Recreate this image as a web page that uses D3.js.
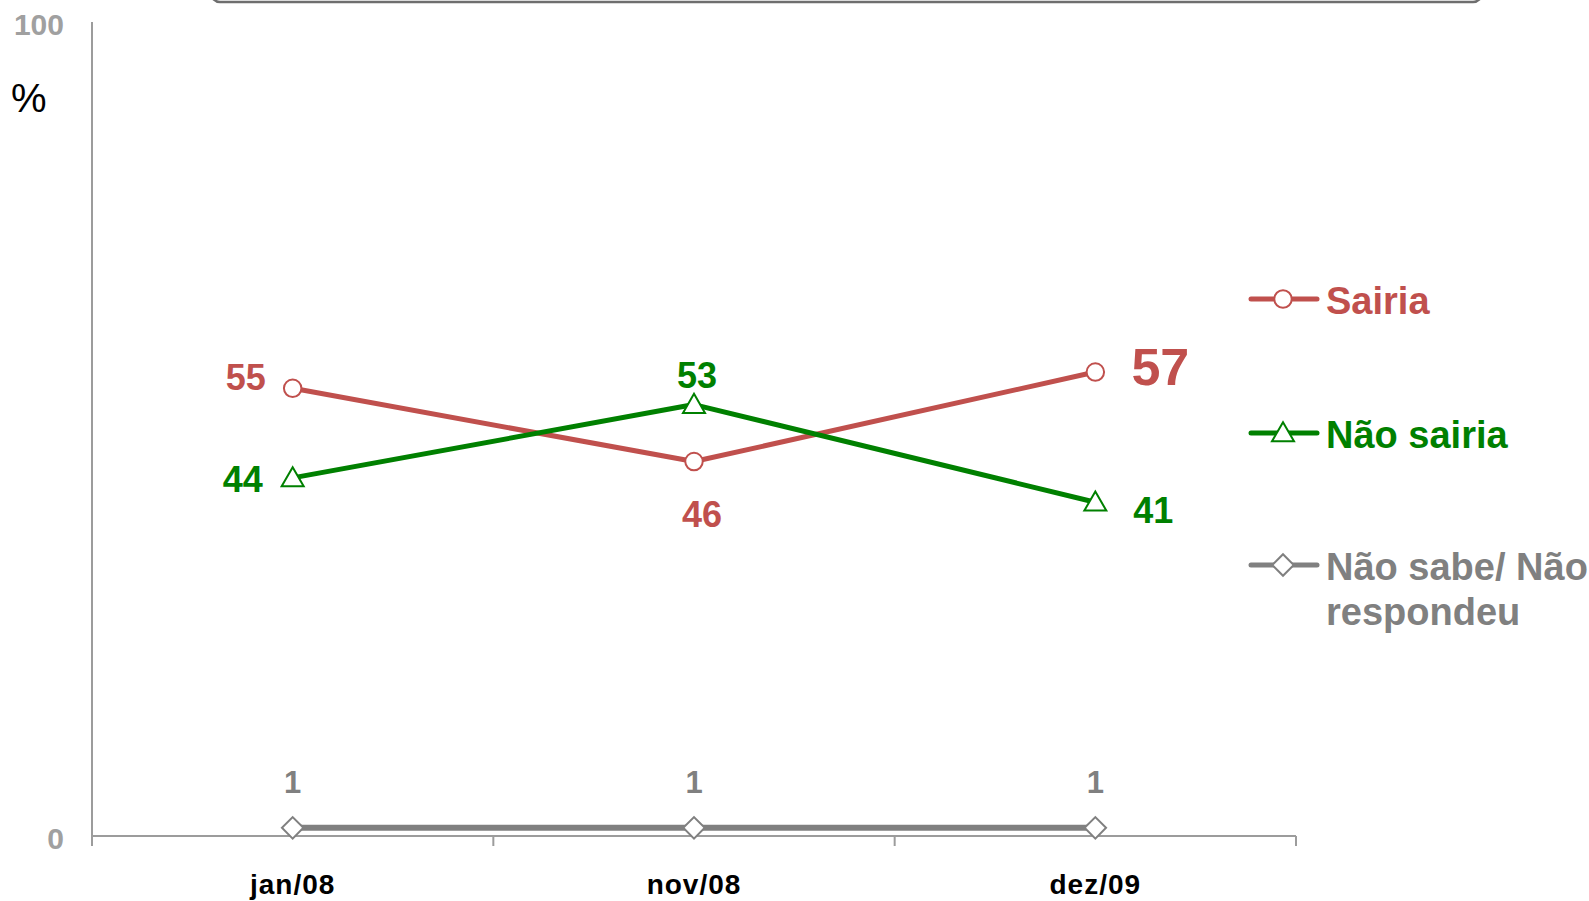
<!DOCTYPE html>
<html>
<head>
<meta charset="utf-8">
<script src="https://cdn.jsdelivr.net/npm/d3@7/dist/d3.min.js"></script>
<style>
  html, body { margin: 0; padding: 0; background: #ffffff; }
  svg { display: block; font-family: "Liberation Sans", Arial, sans-serif; }
</style>
</head>
<body>
<svg id="chart" width="1589" height="901"></svg>
<script>
// Survey waves
const categories = ["jan/08", "nov/08", "dez/09"];

// Percentages per series
const sairia = [55, 46, 57];
const naoSairia = [44, 53, 41];
const naoSabe = [1, 1, 1];

const seriesNames = ["Sairia", "Não sairia", "Não sabe/ Não respondeu"];
const yTicks = [0, 100];

const svg = d3.select("#chart");

const x = d3.scaleBand().domain(categories).range([92, 1296]);
const y = d3.scaleLinear().domain([0, 100]).range([836, 22]);
const cx = c => x(c) + x.bandwidth() / 2;

// Title frame peeking in at the top edge
svg.append("rect")
  .attr("x", 211).attr("y", -40)
  .attr("width", 1271).attr("height", 42)
  .attr("rx", 9)
  .attr("fill", "none")
  .attr("stroke", "#6e6e6e")
  .attr("stroke-width", 2.5);

// Axes
const axisColor = "#9c9c9c";
svg.append("line")
  .attr("x1", 92).attr("x2", 92)
  .attr("y1", y(100)).attr("y2", y(0) + 10)
  .attr("stroke", axisColor).attr("stroke-width", 2);
svg.append("line")
  .attr("x1", 92).attr("x2", 1296)
  .attr("y1", y(0)).attr("y2", y(0))
  .attr("stroke", axisColor).attr("stroke-width", 2);

// Category boundary ticks on the x axis
const bounds = categories.map(c => x(c)).concat([x(categories[categories.length - 1]) + x.bandwidth()]);
svg.selectAll(".xtick").data(bounds.slice(1)).enter().append("line")
  .attr("x1", d => d).attr("x2", d => d)
  .attr("y1", y(0)).attr("y2", y(0) + 10)
  .attr("stroke", axisColor).attr("stroke-width", 2);

// Category labels
svg.selectAll(".xlabel").data(categories).enter().append("text")
  .attr("x", d => cx(d))
  .attr("y", 894)
  .attr("text-anchor", "middle")
  .attr("font-size", 28)
  .attr("font-weight", "bold")
  .attr("letter-spacing", 1)
  .attr("fill", "#000")
  .text(d => d);

// Y tick labels
svg.selectAll(".ylabel").data(yTicks).enter().append("text")
  .attr("x", 64)
  .attr("y", d => y(d) + 2)
  .attr("dominant-baseline", "central")
  .attr("text-anchor", "end")
  .attr("font-size", 30)
  .attr("font-weight", "bold")
  .attr("fill", "#a0a0a0")
  .text(d => d);

svg.append("text")
  .attr("x", 11).attr("y", 112)
  .attr("font-size", 40)
  .attr("fill", "#000")
  .text("%");

// Series definitions
const series = [
  { name: seriesNames[0], values: sairia, color: "#c0504d", marker: "circle", width: 5 },
  { name: seriesNames[1], values: naoSairia, color: "#008000", marker: "triangle", width: 5 },
  { name: seriesNames[2], values: naoSabe, color: "#808080", marker: "diamond", width: 6 }
];

const symbolFor = {
  circle: d3.symbol().type(d3.symbolCircle).size(240),
  triangle: d3.symbol().type(d3.symbolTriangle).size(210),
  diamond: d3.symbol().type(d3.symbolSquare).size(230)
};
const markerRotation = m => (m === "diamond" ? " rotate(45)" : "");

const line = d3.line().x(d => cx(d.cat)).y(d => y(d.v));

series.forEach(s => {
  const pts = categories.map((c, i) => ({ cat: c, v: s.values[i] }));
  svg.append("path")
    .attr("d", line(pts))
    .attr("fill", "none")
    .attr("stroke", s.color)
    .attr("stroke-width", s.width)
    .attr("stroke-linejoin", "round");
  svg.selectAll(null).data(pts).enter().append("path")
    .attr("d", symbolFor[s.marker]())
    .attr("transform", d => `translate(${cx(d.cat)},${y(d.v) + (s.marker === "triangle" ? 2 : 0)})${markerRotation(s.marker)}`)
    .attr("fill", "#fff")
    .attr("stroke", s.color)
    .attr("stroke-width", 2);
});

// Value labels, placed around each point
const labelPlacement = [
  [{ dx: -47, dy: -11, size: 36 }, { dx: 8, dy: 53, size: 36 }, { dx: 65, dy: -5, size: 52 }],
  [{ dx: -50, dy: 2, size: 36 }, { dx: 3, dy: -29, size: 36 }, { dx: 58, dy: 8, size: 36 }],
  [{ dx: 0, dy: -45, size: 31 }, { dx: 0, dy: -45, size: 31 }, { dx: 0, dy: -45, size: 31 }]
];

series.forEach((s, si) => {
  svg.selectAll(null).data(categories).enter().append("text")
    .attr("x", (c, i) => cx(c) + labelPlacement[si][i].dx)
    .attr("y", (c, i) => y(s.values[i]) + labelPlacement[si][i].dy)
    .attr("dominant-baseline", "central")
    .attr("text-anchor", "middle")
    .attr("font-size", (c, i) => labelPlacement[si][i].size)
    .attr("font-weight", "bold")
    .attr("fill", s.color)
    .text((c, i) => s.values[i]);
});

// Legend
const legendY = [299, 433, 565];
const legend = svg.selectAll(".legend").data(series).enter().append("g")
  .attr("transform", (d, i) => `translate(0,${legendY[i]})`);
legend.append("line")
  .attr("x1", 1251).attr("x2", 1317)
  .attr("y1", 0).attr("y2", 0)
  .attr("stroke", d => d.color)
  .attr("stroke-width", 5)
  .attr("stroke-linecap", "round");
legend.append("path")
  .attr("d", d => symbolFor[d.marker]())
  .attr("transform", d => `translate(1283,${d.marker === "triangle" ? 2 : 0})${markerRotation(d.marker)}`)
  .attr("fill", "#fff")
  .attr("stroke", d => d.color)
  .attr("stroke-width", 2);
const legendText = legend.append("text")
  .attr("x", 1326)
  .attr("y", 15)
  .attr("font-size", 38)
  .attr("font-weight", "bold")
  .attr("fill", d => d.color);
legendText.each(function(d) {
  const t = d3.select(this);
  const parts = d.name === seriesNames[2] ? ["Não sabe/ Não", "respondeu"] : [d.name];
  parts.forEach((p, i) => {
    t.append("tspan").attr("x", 1326).attr("dy", i === 0 ? 0 : 45).text(p);
  });
});
</script>
</body>
</html>
